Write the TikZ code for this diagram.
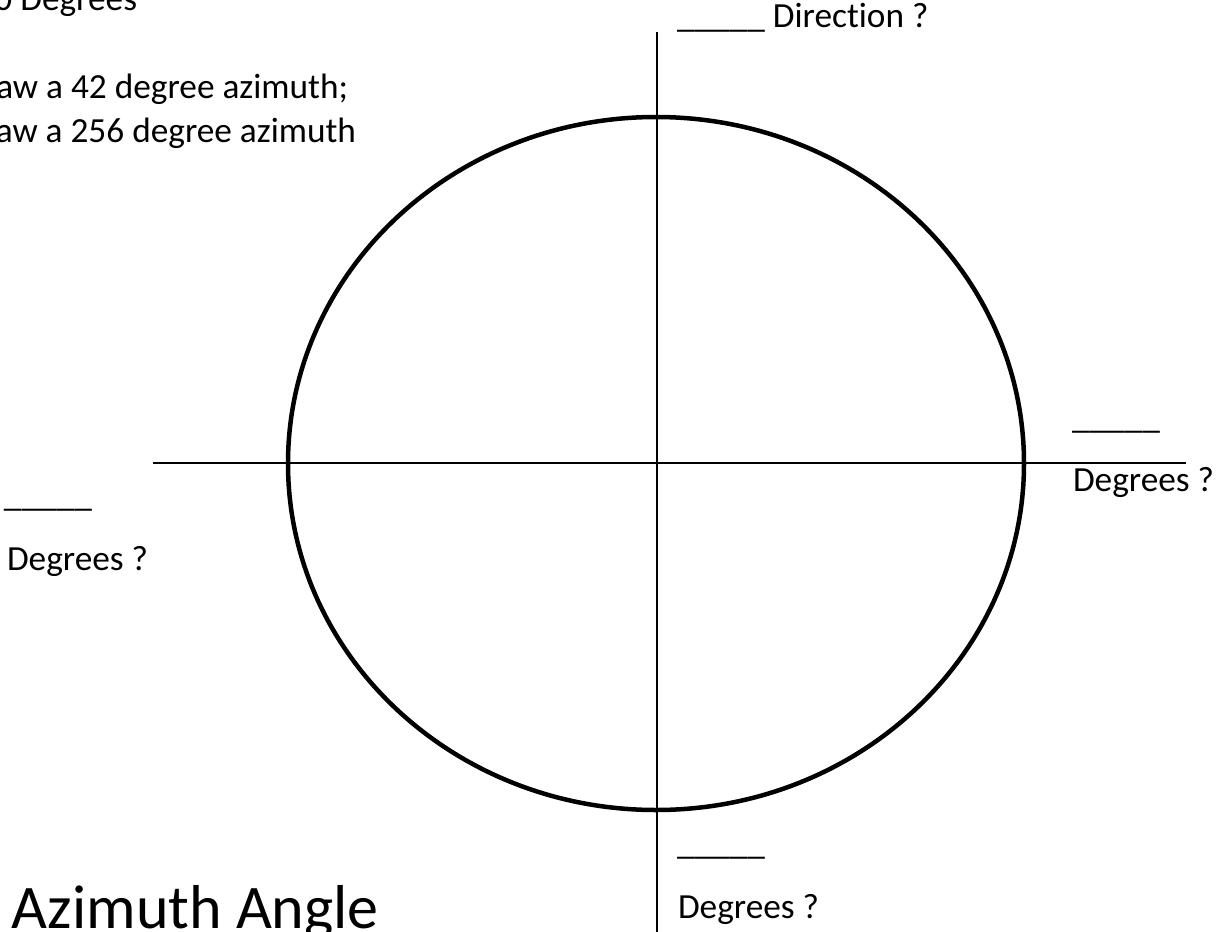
\documentclass[tikz,border=0pt]{standalone}
\usepackage{fontspec}
\setmainfont[Ligatures={NoCommon}]{Carlito}
\begin{document}
\begin{tikzpicture}[x=1pt,y=-1pt,
  txt/.style={inner sep=0pt, outer sep=0pt, font=\fontsize{35.3}{42}\selectfont},
  titletxt/.style={inner sep=0pt, outer sep=0pt, font=\fontsize{62}{74}\selectfont},
  axis/.style={line width=2pt, black},
  ring/.style={line width=4.5pt, black}]
\useasboundingbox (0,0) rectangle (1216,932);
\clip (0,0) rectangle (1216,932);
% circle and axes
\draw[ring] (656,463.5) ellipse [x radius=368pt, y radius=346.5pt];
\coordinate (vtop) at (657,32);
\coordinate (vbot) at (657,934);
\coordinate (hleft) at (153,463);
\coordinate (hright) at (1186,463);
\draw[axis] (vtop) -- (vbot);
\draw[axis] (hleft) -- (hright);
% top-left instructions (cut off at the left edge)
\node[txt, anchor=base east] (l0) at (137,10) {0 Degrees};
\node[txt, anchor=base east] (l1) at (348,98) {aw a 42 degree azimuth;};
\node[txt, anchor=base east] (l2) at (356,142) {aw a 256 degree azimuth};
% labels
\node[txt, anchor=base west] (ntop) at (677,27) {\_\_\_\_\_ Direction ?};
\node[txt, anchor=base west] (eblank) at (1072,428) {\_\_\_\_\_};
\node[txt, anchor=base west] (edeg) at (1073,491) {Degrees ?};
\node[txt, anchor=base west] (wblank) at (4,506) {\_\_\_\_\_};
\node[txt, anchor=base west] (wdeg) at (7,570) {Degrees ?};
\node[txt, anchor=base west] (sblank) at (677,854) {\_\_\_\_\_};
\node[txt, anchor=base west] (sdeg) at (678,918) {Degrees ?};
% title
\node[titletxt, anchor=base west] (title) at (12,928) {Azimuth Angle};
\end{tikzpicture}
\end{document}
